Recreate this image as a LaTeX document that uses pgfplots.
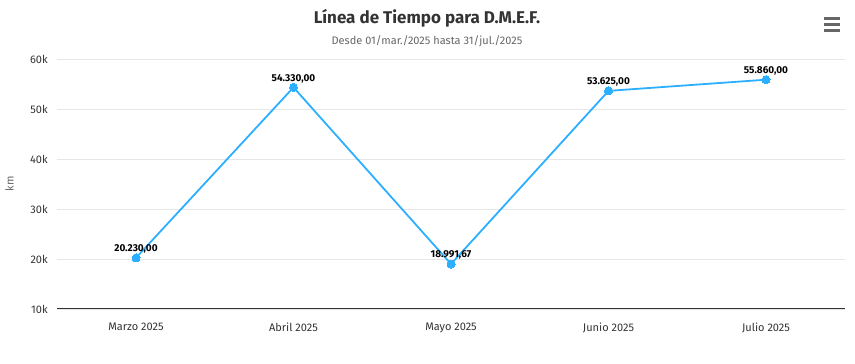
\documentclass[border=0pt]{standalone}
\usepackage{pgfplots}
\pgfplotsset{compat=1.18}
\usepackage{fontspec}
\setmainfont{Fira Sans}
\definecolor{hcline}{HTML}{2CAFFE}
\definecolor{hcgrid}{HTML}{E6E6E6}
\definecolor{hctext}{HTML}{333333}
\definecolor{hcsub}{HTML}{666666}
\begin{document}
\begin{tikzpicture}[x=1pt,y=1pt]
\path[use as bounding box] (0,0) rectangle (855,364);
\node[font=\fontsize{17}{20}\selectfont\bfseries, text=hctext] at (427,346) {Línea de Tiempo para D.M.E.F.};
\node[font=\fontsize{11}{13}\selectfont, text=hcsub] at (427,323) {Desde 01/mar./2025 hasta 31/jul./2025};
\foreach \yy in {345,339,333} {\draw[hcsub, line width=3pt] (824,\yy) -- (840,\yy);}
\begin{axis}[
  at={(57.25pt,55pt)}, anchor=south west,
  scale only axis, width=787.5pt, height=250pt,
  xmin=-0.5, xmax=4.5, ymin=10000, ymax=60000,
  scaled y ticks=false,
  xtick={0,1,2,3,4},
  xticklabels={Marzo 2025,Abril 2025,Mayo 2025,Junio 2025,Julio 2025},
  ytick={10000,20000,30000,40000,50000,60000},
  yticklabels={10k,20k,30k,40k,50k,60k},
  ymajorgrids, grid style={hcgrid, line width=0.8pt},
  axis x line*=bottom, axis y line*=left,
  x axis line style={hctext, line width=1pt, -},
  y axis line style={draw=none},
  major tick length=0pt,
  tick label style={font=\fontsize{11}{13}\selectfont, text=hctext},
  xticklabel style={yshift=-10pt},
  yticklabel style={xshift=-6pt},
  ylabel={km},
  every axis y label/.style={at={(axis description cs:-0.0605,0.5)}, rotate=90, anchor=center, font=\fontsize{11}{13}\selectfont, text=hcsub},
  clip=false,
  nodes near coords,
  point meta=explicit symbolic,
  every node near coord/.append style={font=\fontsize{10}{12}\selectfont\bfseries, text=black, anchor=south, yshift=1pt},
]
\addplot[hcline, line width=1.8pt, mark=*, mark size=4pt, mark options={fill=hcline, draw=hcline, line width=0pt}]
coordinates {(0,20230)[20.230,00] (1,54330)[54.330,00] (2,18991.67)[18.991,67] (3,53625)[53.625,00] (4,55860)[55.860,00]};
\end{axis}
\end{tikzpicture}
\end{document}
